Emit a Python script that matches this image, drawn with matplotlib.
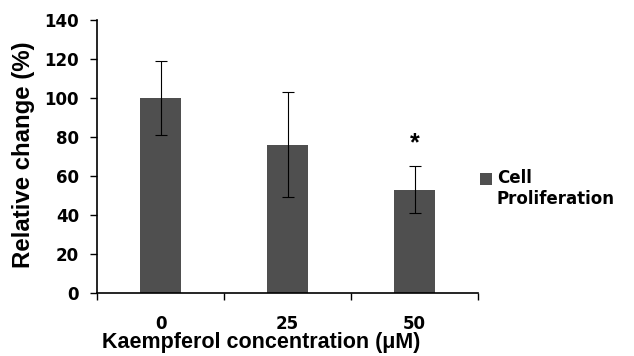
import matplotlib
matplotlib.use("Agg")
import matplotlib.pyplot as plt
from matplotlib.patches import Rectangle
from matplotlib.container import BarContainer
from matplotlib.legend_handler import HandlerPatch
import numpy as np

plt.rcParams['font.family'] = ['Liberation Sans', 'DejaVu Sans']
plt.rcParams['font.weight'] = 'bold'

# Data
concentrations = ["0", "25", "50"]
proliferation = [100, 76, 53]
errors = [19, 27, 12]
significant = [False, False, True]
series_name = "Cell\nProliferation"

BAR_COLOR = "#4f4f4f"
TICK_FONT = ['DejaVu Sans']

W, H = 634, 356
fig = plt.figure(figsize=(W / 100, H / 100), dpi=100)
ax = fig.add_axes([97 / W, (H - 293) / H, (478 - 97) / W, (293 - 20) / H])

x = np.arange(len(concentrations))
ax.bar(x, proliferation, width=0.33, color=BAR_COLOR, label=series_name, zorder=2)
ax.errorbar(x, proliferation, yerr=errors, fmt="none", ecolor="black",
            elinewidth=0.8, capsize=4.3, capthick=0.8, zorder=3)

for xi, v, e, s in zip(x, proliferation, errors, significant):
    if s:
        ax.text(xi, v + e + 18, "*", ha="center", va="top", fontsize=18,
                fontweight="bold")

ax.set_xlim(-0.5, len(concentrations) - 0.5)
ax.set_ylim(0, 140)
ax.set_yticks(np.arange(0, 141, 20))

# category boundaries carry the tick marks, labels sit at category centres
ax.set_xticks(np.arange(-0.5, len(concentrations), 1.0))
ax.set_xticklabels([])
ax.set_xticks(x, minor=True)
ax.set_xticklabels(concentrations, minor=True)
ax.tick_params(axis="x", which="major", direction="out", length=5, width=1)
ax.tick_params(axis="x", which="minor", length=0, pad=16, labelsize=12)
ax.tick_params(axis="y", direction="out", length=5, width=1, labelsize=12, pad=8)
for lab in ax.get_xticklabels(minor=True) + ax.get_yticklabels():
    lab.set_family(TICK_FONT)
    lab.set_fontweight("bold")

for sp in ("top", "right"):
    ax.spines[sp].set_visible(False)
for sp in ("left", "bottom"):
    ax.spines[sp].set_linewidth(1.2)

fig.text(261 / W, (H - 348) / H, "Kaempferol concentration (μM)", ha="center",
         va="baseline", fontsize=15.5, fontweight="bold")
fig.text(24 / W, (H - 155) / H, "Relative change (%)", rotation=90, ha="center",
         va="center", fontsize=17.3, fontweight="bold")


def top_square(legend, orig_handle, xdescent, ydescent, width, height, fontsize):
    # square aligned with the first line of the two-line label
    side = width
    return Rectangle((-xdescent, -ydescent + height - side + 7.5), side, side)


def first_bar_style(legend_handle, orig_handle):
    legend_handle.update_from(orig_handle.patches[0])


leg = ax.legend(loc="upper left", bbox_to_anchor=(480 / W, (H - 169) / H),
                bbox_transform=fig.transFigure, frameon=False,
                prop={'family': TICK_FONT, 'weight': 'bold', 'size': 12},
                handlelength=0.72, handleheight=0.72, handletextpad=0.3,
                borderaxespad=0, borderpad=0,
                handler_map={BarContainer: HandlerPatch(patch_func=top_square,
                                                        update_func=first_bar_style)})

fig.savefig("out.png", dpi=100)
